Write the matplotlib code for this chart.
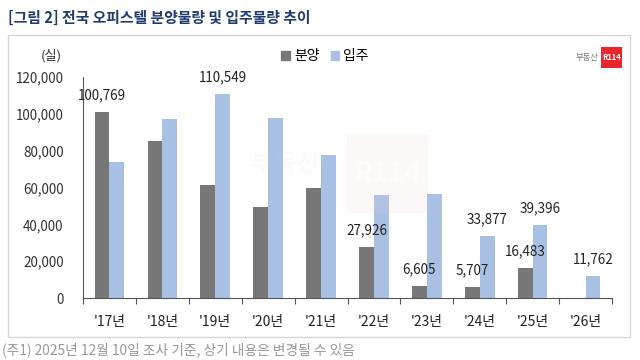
import numpy as np
import matplotlib.pyplot as plt
from matplotlib.patches import Patch, Rectangle

plt.rcParams['font.family'] = ['Noto Sans CJK KR', 'DejaVu Sans']

# data
years = ["'17년", "'18년", "'19년", "'20년", "'21년", "'22년", "'23년", "'24년", "'25년", "'26년"]
sale = [100769, 85400, 61600, 49500, 60000, 27926, 6605, 5707, 16483, 0]
moving_in = [74000, 97300, 110549, 97800, 77500, 55700, 56500, 33877, 39396, 11762]

# which values carry a number label
sale_labels = [100769, None, None, None, None, 27926, 6605, 5707, 16483, None]
moving_labels = [None, None, 110549, None, None, None, None, 33877, 39396, 11762]

gray = '#777777'
blue = '#a9c0e5'

fig = plt.figure(figsize=(6.4, 3.6), dpi=100)
ax = fig.add_axes([83/640, 1 - 298/360, 529/640, 221/360])

x = np.arange(len(years))
w = 0.28
ax.bar(x - w/2, sale, w, color=gray, label='분양', zorder=2)
ax.bar(x + w/2, moving_in, w, color=blue, label='입주', zorder=2)

for i in range(len(years)):
    if sale_labels[i] is not None:
        ax.annotate(f'{sale_labels[i]:,}', (x[i] - w/2, sale[i]), xytext=(0, 7),
                    textcoords='offset points', ha='center', va='bottom', fontsize=9.7, color='#222222')
    if moving_labels[i] is not None:
        ax.annotate(f'{moving_labels[i]:,}', (x[i] + w/2, moving_in[i]), xytext=(0, 7),
                    textcoords='offset points', ha='center', va='bottom', fontsize=9.7, color='#222222')

ax.set_xlim(-0.5, len(years) - 0.5)
ax.set_ylim(0, 120000)
ax.set_yticks(np.arange(0, 120001, 20000))
ax.yaxis.set_major_formatter(plt.FuncFormatter(lambda v, p: f'{int(v):,}'))
ax.tick_params(axis='y', length=0, pad=14, labelsize=9.7, labelcolor='#333333')

# x ticks sit between the categories, labels at the centers
ax.set_xticks(np.arange(-0.5, len(years) + 0.5, 1))
ax.set_xticklabels([])
ax.set_xticks(x, minor=True)
ax.set_xticklabels(years, minor=True, fontsize=10, color='#222222')
ax.tick_params(axis='x', which='major', length=4, direction='out', color='#555555')
ax.tick_params(axis='x', which='minor', length=0, pad=12)

for s in ['top', 'right']:
    ax.spines[s].set_visible(False)
ax.spines['left'].set_color('#555555')
ax.spines['bottom'].set_color('#555555')

# faint watermark in the middle of the plot
fig.patches.append(Rectangle((347/640, 1 - 213/360), 81/640, 78/360, transform=fig.transFigure,
                             facecolor='#f3c9c9', edgecolor='none', alpha=0.12, zorder=5))
fig.text(388/640, 1 - 174/360, 'R114', fontsize=20, fontweight='bold', color='white',
         alpha=0.5, ha='center', va='center', zorder=6)
fig.text(285/640, 1 - 165/360, '부동산', fontsize=18, fontweight='bold', color='#cccccc',
         alpha=0.08, ha='center', va='center', zorder=6)

# frame, title, legend, logo, footnote
fig.patches.append(Rectangle((8/640, 1 - 337/360), 622/640, 302/360, transform=fig.transFigure,
                             fill=False, edgecolor='#d6d6d6', linewidth=1))
fig.text(8/640, 1 - 18/360, '[그림 2] 전국 오피스텔 분양물량 및 입주물량 추이', fontsize=10.7,
         fontweight='bold', color='#1f3a6e', va='center')
fig.text(51/640, 1 - 56/360, '(실)', fontsize=9.5, color='#333333', ha='center', va='center')

handles = [Patch(color=gray, label='분양'), Patch(color=blue, label='입주')]
fig.legend(handles=handles, loc='center', bbox_to_anchor=(325/640, 1 - 56/360), ncol=2,
           frameon=False, fontsize=10, handlelength=0.6, handleheight=0.6,
           handletextpad=0.3, columnspacing=0.8)

fig.patches.append(Rectangle((601/640, 1 - 68/360), 21/640, 21/360, transform=fig.transFigure,
                             facecolor='#e8262c', edgecolor='none'))
fig.text(611.5/640, 1 - 57.5/360, 'R114', fontsize=5.5, fontweight='bold', color='white',
         ha='center', va='center')
fig.text(598/640, 1 - 57.5/360, '부동산', fontsize=6, color='#777777', ha='right', va='center')

fig.text(2/640, 1 - 350/360, '(주1) 2025년 12월 10일 조사 기준, 상기 내용은 변경될 수 있음',
         fontsize=9.9, color='#999999', va='center')

fig.savefig('out.png', dpi=100)
